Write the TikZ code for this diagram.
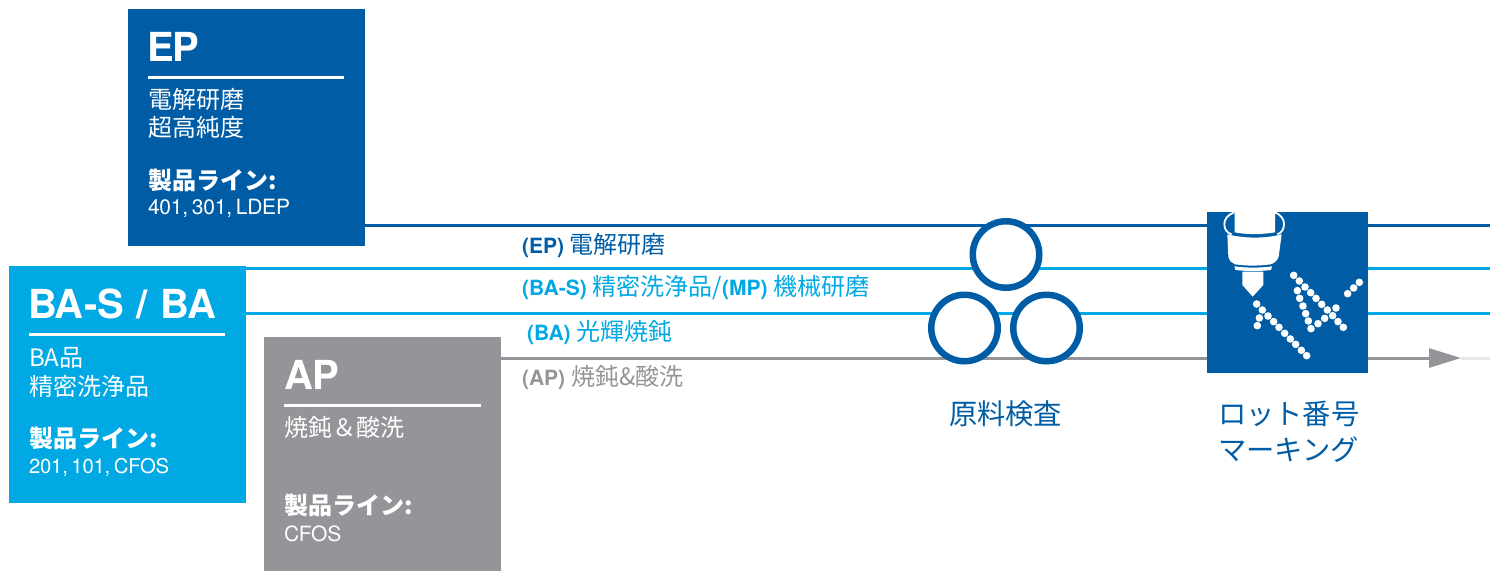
\documentclass[tikz,border=0pt]{standalone}
\usepackage{fontspec}
\usetikzlibrary{arrows.meta}
\setmainfont{TeX Gyre Heros}
\newfontfamily\jp{Noto Sans CJK JP}
\newfontfamily\tight{TeX Gyre Heros}[LetterSpace=-2]
\newfontfamily\narrow{TeX Gyre Heros}[LetterSpace=-1,WordSpace=0.65]
\definecolor{dkblue}{HTML}{005DA5}
\definecolor{ltblue}{HTML}{00A9E4}
\definecolor{midgray}{HTML}{939598}
\definecolor{palegray}{HTML}{E6E7E8}
\newcommand{\fs}[1]{\fontsize{#1}{#1}\selectfont}
\newcommand{\lat}{\rmfamily\fs{21}\bfseries}
\newcommand{\cjk}{\jp\fs{24}\mdseries}
\tikzset{
 x=1pt,y=-1pt,
 panel/.style={anchor=north west,inner sep=0,outer sep=0},
 txt/.style={anchor=base west,inner sep=0,outer sep=0},
 ttl/.style={txt,text=white,font=\tight\fs{40}\bfseries},
 subtxt/.style={txt,text=white,font=\jp\fs{24}},
 prodtxt/.style={txt,text=white,font=\jp\bfseries\fs{24}},
 codetxt/.style={txt,text=white,font=\narrow\fs{21}},
 labtxt/.style={txt,font=\jp\fs{24}},
 captxt/.style={txt,text=dkblue,font=\jp\fs{28.3}},
 ringnode/.style={circle,draw=dkblue,fill=white,line width=6.5pt,minimum size=66.5pt,inner sep=0},
 flow/.style={line width=3pt},
 rulew/.style={white,line width=3pt},
 dotnode/.style={circle,fill=white,inner sep=0,minimum size=7.6pt},
}
\begin{document}
\begin{tikzpicture}
\useasboundingbox (0,0) rectangle (1490,571);
% free ends
\coordinate (e1) at (1490,225.5);
\coordinate (e2) at (1490,268);
\coordinate (e3) at (1490,313);
\coordinate (e4) at (1461,358);
\coordinate (e5) at (1490,358);
\coordinate (s1) at (365,225.5);
\coordinate (s2) at (246,268);
\coordinate (s3) at (246,313);
\coordinate (s4) at (501,358);
% lines
\draw[flow,dkblue] (s1) -- (e1);
\draw[flow,ltblue] (s2) -- (e2);
\draw[flow,ltblue] (s3) -- (e3);
\draw[flow,palegray] (e4) -- (e5);
\draw[flow,midgray,-{Triangle[length=32pt,width=19pt]}] (s4) -- (e4);
% panels
\node[panel,fill=dkblue,minimum width=237pt,minimum height=237pt] (ep) at (128,9) {};
\node[panel,fill=ltblue,minimum width=237pt,minimum height=237pt] (ba) at (9,266) {};
\node[panel,fill=midgray,minimum width=237pt,minimum height=234pt] (ap) at (264,337) {};
\node[panel,fill=dkblue,minimum width=161pt,minimum height=161pt] (lot) at (1207,212) {};
% EP
\node[ttl] (t1) at (147,61) {EP};
\draw[rulew] (148,77) -- (344,77);
\node[subtxt] (t2) at (148,108) {電解研磨};
\node[subtxt] (t3) at (148,136) {超高純度};
\node[prodtxt] (t4) at (148,189) {製品ライン:};
\node[codetxt] (t5) at (148,214) {401, 301, LDEP};
% BA
\node[ttl] (b1) at (28,318) {BA\kern1pt-S\kern2pt{} /\kern2.5pt{} BA};
\draw[rulew] (29,334) -- (225,334);
\node[subtxt] (b2) at (29,366) {BA品};
\node[subtxt] (b3) at (29,395) {精密洗浄品};
\node[prodtxt] (b4) at (29,447) {製品ライン:};
\node[codetxt] (b5) at (29,473) {\fs{20.3}201, 101, CFOS};
% AP
\node[ttl] (a1) at (284,389) {AP};
\draw[rulew] (284,405) -- (481,405);
\node[subtxt] (a2) at (284,436) {焼鈍＆酸洗};
\node[prodtxt] (a4) at (284,514) {製品ライン:};
\node[codetxt] (a5) at (284,541) {CFOS};
% labels
\node[labtxt,text=dkblue] (l1) at (522,253) {\lat (EP) \cjk 電解研磨};
\node[labtxt,text=ltblue] (l2) at (522,295) {\lat (BA-S) \cjk 精密洗浄品/\lat (MP) \cjk 機械研磨};
\node[labtxt,text=ltblue] (l3) at (527,340) {\lat (BA) \cjk 光輝焼鈍};
\node[labtxt,text=midgray] (l4) at (522,385) {\lat (AP) \cjk 焼鈍\&酸洗};
% rings
\node[ringnode] (r1) at (1006,254.5) {};
\node[ringnode] (r2) at (964.5,328) {};
\node[ringnode] (r3) at (1046.5,328) {};
\node[captxt] (c1) at (949,424) {原料検査};
\node[captxt] (c2) at (1218,424) {ロット番号};
\node[captxt] (c3) at (1218,460) {マーキング};
% laser icon
\begin{scope}[shift={(1190,200)},x=0.3333pt,y=-0.3333pt]
\draw[white,line width=1.8pt] (133,37) .. controls (112,45) and (103,58) .. (103,72) .. controls (103,88) and (110,98) .. (125,103);
\draw[white,line width=1.8pt] (255,37) .. controls (274,45) and (282,58) .. (282,72) .. controls (282,88) and (275,98) .. (262,103);
\fill[white] (134,36) -- (255,36) -- (255,97) .. controls (215,104) and (170,104) .. (134,97) -- cycle;
\fill[white] (112,103) .. controls (165,116) and (225,116) .. (275,103) -- (266,170) .. controls (262,182) and (252,190) .. (242,193) .. controls (205,198) and (170,198) .. (135,193) .. controls (125,190) and (118,182) .. (115,170) -- cycle;
\fill[white] (133,199) .. controls (170,204) and (210,204) .. (246,199) -- (243,210) .. controls (210,214) and (170,214) .. (136,210) -- cycle;
\fill[white] (157,215) -- (220,215) -- (220,255) -- (188,290) -- (157,255) -- cycle;
\foreach \p [count=\i] in {(200,312),(217,330),(234,348),(251,365),(267,382),(284,400),(301,417),(317,433),(334,451),(350,467),(208,354),(202,377),(311,226),(328,243),(345,261),(362,278),(378,295),(395,313),(412,330),(428,347),(444,365),(460,382),(322,272),(329,295),(339,318),(347,341),(355,363),(363,386),(384,371),(404,355),(438,324),(473,281),(491,264),(508,247)}
  \node[dotnode] (d\i) at \p {};
\end{scope}
\end{tikzpicture}
\end{document}
